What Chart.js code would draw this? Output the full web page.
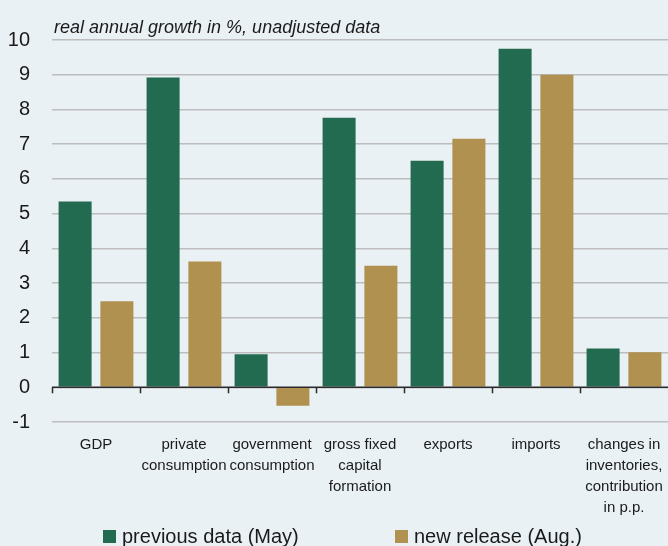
<!DOCTYPE html>
<html>
<head>
<meta charset="utf-8">
<script src="https://cdn.jsdelivr.net/npm/chart.js@4"></script>
<style>
  html, body { margin: 0; padding: 0; background: #eaf1f4; overflow: hidden; }
  #wrap { width: 668px; height: 546px; position: relative; }
</style>
</head>
<body>
<div id="wrap"><canvas id="ChartGrowth"></canvas></div>
<script>
// categories and the two estimates (real annual growth, %)
const categories = [
    'GDP',
    ['private', 'consumption'],
    ['government', 'consumption'],
    ['gross fixed', 'capital', 'formation'],
    'exports',
    'imports',
    ['changes in', 'inventories,', 'contribution', 'in p.p.']
];
const previousData = [5.35, 8.92, 0.95, 7.76, 6.52, 9.75, 1.12];
const newRelease = [2.48, 3.62, -0.53, 3.5, 7.16, 9.0, 1.01];
const yTicks = [-1, 0, 1, 2, 3, 4, 5, 6, 7, 8, 9, 10];

const green = '#226a50';
const tan = '#b0914f';
const textColor = '#1a1a1a';
const fontFamily = '"Liberation Sans", Arial, sans-serif';

// title, zero line with boundary ticks, and the legend at the bottom
const extras = {
    id: 'extras',
    afterDatasetsDraw: function (chart) {
        const ctx = chart.ctx;
        const x = chart.scales.x;
        const y = chart.scales.y;
        const area = chart.chartArea;
        const y0 = y.getPixelForValue(0);
        const step = x.getPixelForValue(1) - x.getPixelForValue(0);

        ctx.save();
        ctx.strokeStyle = '#2a2a2a';
        ctx.lineWidth = 1.5;
        ctx.beginPath();
        ctx.moveTo(area.left, y0);
        ctx.lineTo(area.right, y0);
        for (let i = 0; i < categories.length; i++) {
            const bx = Math.round(x.getPixelForValue(i) - step / 2) + 0.5;
            ctx.moveTo(bx, y0);
            ctx.lineTo(bx, y0 + 6);
        }
        ctx.stroke();

        ctx.fillStyle = textColor;
        ctx.font = 'italic 18px ' + fontFamily;
        ctx.textBaseline = 'alphabetic';
        ctx.textAlign = 'left';
        ctx.fillText('real annual growth in %, unadjusted data', 54, 33);

        const legendX = [103, 395];
        ctx.font = '20px ' + fontFamily;
        chart.data.datasets.forEach(function (ds, i) {
            ctx.fillStyle = ds.backgroundColor;
            ctx.fillRect(legendX[i], 530, 13, 13);
            ctx.fillStyle = textColor;
            ctx.fillText(ds.label, legendX[i] + 19, 543);
        });
        ctx.restore();
    }
};

const data = {
    labels: categories,
    datasets: [{
        label: 'previous data (May)',
        data: previousData,
        backgroundColor: green,
        categoryPercentage: 0.95,
        barPercentage: 0.79
    }, {
        label: 'new release (Aug.)',
        data: newRelease,
        backgroundColor: tan,
        categoryPercentage: 0.95,
        barPercentage: 0.79
    }]
};

const config = {
    type: 'bar',
    data: data,
    options: {
        responsive: true,
        maintainAspectRatio: false,
        animation: false,
        layout: { padding: { top: 40, right: 0, bottom: 0, left: 0 } },
        plugins: {
            legend: { display: false },
            title: { display: false },
            tooltip: { enabled: false }
        },
        scales: {
            x: {
                grid: { display: false, drawTicks: false },
                border: { display: false },
                ticks: {
                    color: textColor,
                    padding: 12,
                    maxRotation: 0,
                    autoSkip: false,
                    font: { family: fontFamily, size: 15, lineHeight: 1.4 }
                },
                afterFit: function (scale) {
                    scale.height = 124;
                    scale.paddingLeft = 0;
                    scale.paddingRight = 0;
                }
            },
            y: {
                min: -1,
                max: 10,
                afterBuildTicks: function (scale) {
                    scale.ticks = yTicks.map(function (v) { return { value: v }; });
                },
                grid: { color: '#bdbdbd', lineWidth: 1.5, drawTicks: false },
                border: { display: false },
                ticks: {
                    color: textColor,
                    padding: 22,
                    font: { family: fontFamily, size: 20 }
                },
                afterFit: function (scale) {
                    scale.width = 52;
                    scale.paddingTop = 0;
                    scale.paddingBottom = 0;
                }
            }
        }
    },
    plugins: [extras]
};

const myChart = new Chart(document.getElementById('ChartGrowth'), config);
</script>
</body>
</html>
